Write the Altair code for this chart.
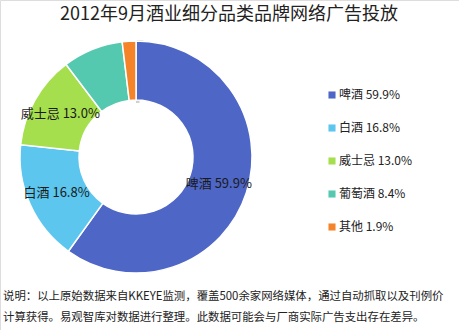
import altair as alt
import pandas as pd

title_text = "2012年9月酒业细分品类品牌网络广告投放"
categories = ["啤酒", "白酒", "威士忌", "葡萄酒", "其他"]
values = [59.9, 16.8, 13.0, 8.4, 1.9]
colors = ["#4E66C6", "#5CC6EE", "#A6DF4E", "#55C9AF", "#F5832A"]
show_label = [True, True, True, False, False]
footer_lines = [
    "说明：以上原始数据来自KKEYE监测，覆盖500余家网络媒体，通过自动抓取以及刊例价",
    "计算获得。易观智库对数据进行整理。此数据可能会与厂商实际广告支出存在差异。",
]

FONT = "Noto Sans CJK SC"

legend_labels = [f"{c} {v:.1f}%" for c, v in zip(categories, values)]
df = pd.DataFrame({
    "cat": categories,
    "value": values,
    "order": list(range(len(categories))),
    "legend": legend_labels,
    "label": [l if s else "" for l, s in zip(legend_labels, show_label)],
})

CX, CY = 136, 157

base = alt.Chart(df)

color = alt.Color(
    "legend:N",
    scale=alt.Scale(domain=legend_labels, range=colors),
    sort=legend_labels,
    legend=alt.Legend(
        title=None,
        orient="none",
        legendX=326,
        legendY=89,
        symbolType="square",
        symbolSize=50,
        symbolStrokeWidth=0,
        labelFont=FONT,
        labelFontSize=12,
        labelColor="#222222",
        rowPadding=21,
        labelOffset=1,
    ),
)

shadow = alt.Chart(pd.DataFrame({"v": [1]})).mark_arc(
    x=CX, y=CY + 1, radius=118, radius2=55, color="#d0d0d0"
).encode(theta=alt.Theta("v:Q"))

arcs = base.mark_arc(
    x=CX, y=CY, radius=116, radius2=57, stroke="white", strokeWidth=1.5
).encode(
    theta=alt.Theta("value:Q", stack=True),
    color=color,
    order=alt.Order("order:Q"),
)

labels = base.mark_text(
    x=CX, y=CY, radius=87, font=FONT, fontSize=13, color="#1a1a1a"
).encode(
    theta=alt.Theta("value:Q", stack=True),
    text="label:N",
    order=alt.Order("order:Q"),
)

title = alt.Chart(pd.DataFrame({"t": [title_text]})).mark_text(
    font=FONT, fontSize=18, color="#222222", baseline="middle"
).encode(x=alt.value(229), y=alt.value(15), text="t:N")

footer_layers = []
for i, (line, yy) in enumerate(zip(footer_lines, [297, 318])):
    footer_layers.append(
        alt.Chart(pd.DataFrame({"t": [line]})).mark_text(
            font=FONT, fontSize=11.4, color="#222222", align="left", baseline="middle"
        ).encode(x=alt.value(3), y=alt.value(yy), text="t:N")
    )

chart = alt.layer(shadow, arcs, labels, title, *footer_layers).properties(
    width=459, height=330, padding=0, autosize=alt.AutoSizeParams(type="none")
).configure_view(stroke=None).configure(background="white")

chart.save("out.html", embed_options={"renderer": "svg", "actions": False})
